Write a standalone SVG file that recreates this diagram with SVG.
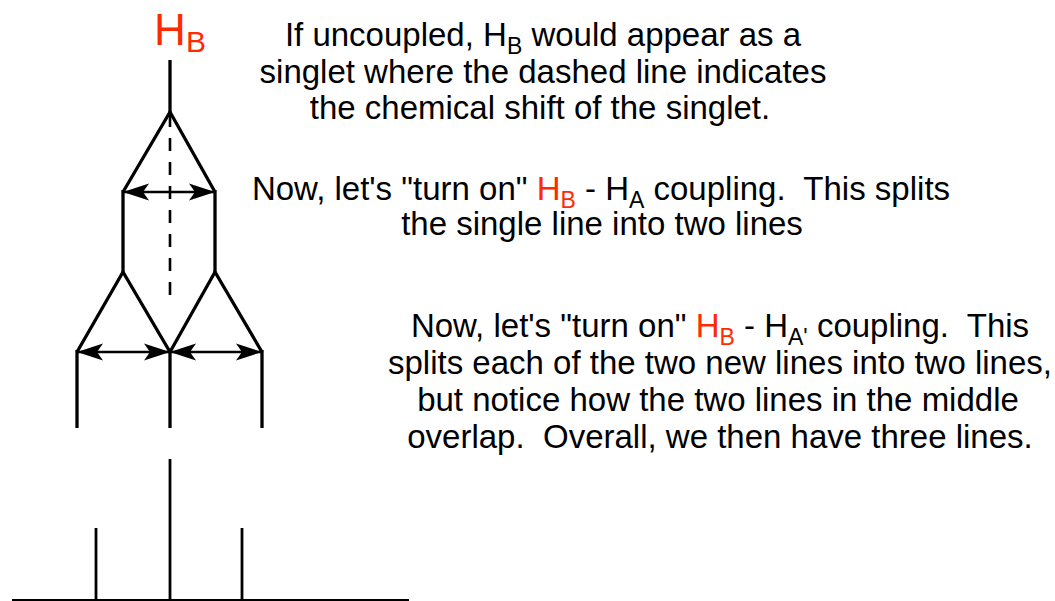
<svg xmlns="http://www.w3.org/2000/svg" width="1055" height="601" viewBox="0 0 1055 601">
<style>
.t{font-family:"Liberation Sans",Arial,sans-serif;font-size:33px;fill:#000;white-space:pre;text-anchor:middle}
.red{fill:#ff2a00}
.sub{font-size:23px}
.ln{stroke:#000;stroke-width:3.3;fill:none;stroke-linecap:butt;stroke-linejoin:miter}
.arr{stroke:#000;stroke-width:2.6;fill:none;marker-start:url(#ah);marker-end:url(#ah)}
.sp{stroke:#000;stroke-width:2.8;fill:none}
</style>
<defs>
<marker id="ah" viewBox="-26 -9 28 18" refX="0" refY="0" markerWidth="28" markerHeight="18" markerUnits="userSpaceOnUse" orient="auto-start-reverse">
<path d="M1,0 L-25,-8.5 L-19,0 L-25,8.5 Z" fill="#000"/>
</marker>
</defs>
<g id="title">
<text class="t red" x="180" y="45" style="font-size:44px">H<tspan style="font-size:30px" dy="7">B</tspan></text>
</g>
<g id="tree">
<line class="ln" x1="170" y1="60" x2="170" y2="112"/>
<polyline class="ln" points="123,192 170,112 215,192"/>
<line x1="170" y1="114" x2="170" y2="298" stroke="#000" stroke-width="2.6" stroke-dasharray="13,11"/>
<line class="ln" x1="123" y1="190" x2="123" y2="272"/>
<line class="ln" x1="215" y1="190" x2="215" y2="272"/>
<polyline class="ln" points="77,352 123,272 170,352 215,272 262,352"/>
<line class="ln" x1="77" y1="350" x2="77" y2="428"/>
<line class="ln" x1="170" y1="350" x2="170" y2="428"/>
<line class="ln" x1="262" y1="350" x2="262" y2="428"/>
</g>
<g id="connectors">
<line class="arr" x1="124" y1="192" x2="214" y2="192"/>
<line class="arr" x1="78" y1="352" x2="169" y2="352"/>
<line class="arr" x1="171" y1="352" x2="261" y2="352"/>
</g>
<g id="spectrum">
<line x1="12" y1="600" x2="409" y2="600" stroke="#000" stroke-width="1.8"/>
<line class="sp" x1="96" y1="528" x2="96" y2="600"/>
<line class="sp" x1="170" y1="459" x2="170" y2="600"/>
<line class="sp" x1="242" y1="528" x2="242" y2="600"/>
</g>
<g id="text1">
<text class="t" x="543" y="46">If uncoupled, H<tspan class="sub" dy="8">B</tspan><tspan dy="-8"> would appear as a</tspan></text>
<text class="t" x="543" y="83">singlet where the dashed line indicates</text>
<text class="t" x="540" y="119">the chemical shift of the singlet.</text>
</g>
<g id="text2">
<text class="t" x="601" y="200">Now, let's "turn on" <tspan class="red">H</tspan><tspan class="red sub" dy="8">B</tspan><tspan dy="-8"> - H</tspan><tspan class="sub" dy="8">A</tspan><tspan dy="-8"> coupling.  This splits</tspan></text>
<text class="t" x="602" y="235">the single line into two lines</text>
</g>
<g id="text3">
<text class="t" x="720" y="337">Now, let's "turn on" <tspan class="red">H</tspan><tspan class="red sub" dy="8">B</tspan><tspan dy="-8"> - H</tspan><tspan class="sub" dy="8">A'</tspan><tspan dy="-8"> coupling.  This</tspan></text>
<text class="t" x="720" y="374">splits each of the two new lines into two lines,</text>
<text class="t" x="718" y="411">but notice how the two lines in the middle</text>
<text class="t" x="720" y="448">overlap.  Overall, we then have three lines.</text>
</g>
</svg>
